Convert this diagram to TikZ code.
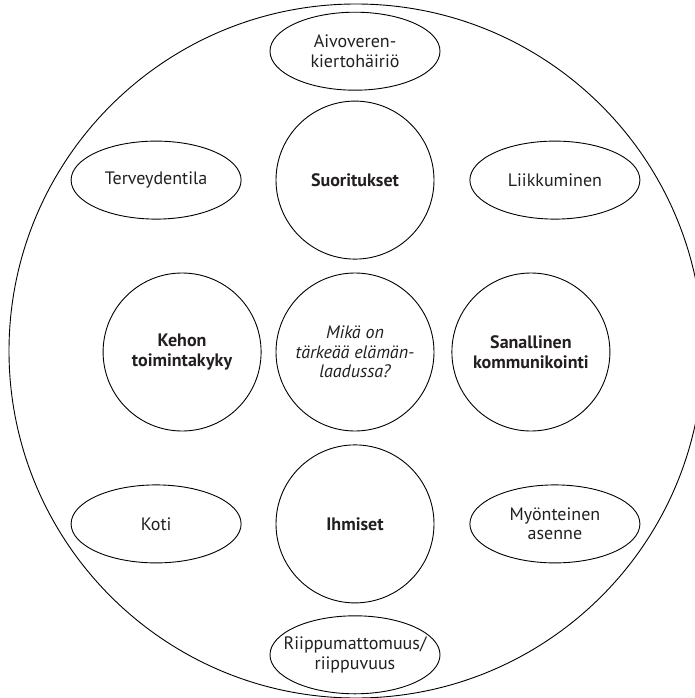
\documentclass[tikz,border=0pt]{standalone}
\usepackage{fontspec}
\setmainfont{PT Sans}
\usepackage{tikz}
\usetikzlibrary{shapes.geometric,positioning}
\definecolor{textgrey}{HTML}{231F20}

\begin{document}
\begin{tikzpicture}[x=1pt,y=-1pt,node distance=13pt and 14pt]

\tikzset{bigcircle/.style={shape=circle,draw,line width=0.9pt,minimum size=158pt,inner sep=0pt,align=center,text=textgrey,font=\fontsize{18}{19.5}\selectfont},
smallellipse/.style={shape=ellipse,draw,line width=0.9pt,minimum width=170pt,minimum height=78pt,inner xsep=-25pt,inner ysep=0pt,align=center,text=textgrey,font=\fontsize{18}{19.5}\selectfont}}

\useasboundingbox (0,0) rectangle (695,698);

% Outer circle
\draw[line width=0.9pt] (356,351) circle [radius=347pt];

% circle nodes
\node [bigcircle] (mid) at (355,352) {\itshape Mikä on\\\itshape tärkeää elämän-\\\itshape laadussa?};
\node [bigcircle,above=of mid] (suor) {\bfseries Suoritukset};
\node [bigcircle,below=of mid] (ihm) {\bfseries Ihmiset};
\node [bigcircle,left=14pt of mid] (kehon) {\bfseries Kehon\\\bfseries toimintakyky};
\node [bigcircle,right=17pt of mid] (sanal) {\bfseries Sanallinen\\\bfseries kommunikointi};

% ellipse nodes
\node [smallellipse,above=10pt of suor] (aivo) {Aivoveren-\\kiertohäiriö};
\node [smallellipse,left=34pt of suor] (terv) {Terveydentila};
\node [smallellipse,right=35pt of suor] (liik) {Liikkuminen};
\node [smallellipse,left=34pt of ihm] (koti) {Koti};
\node [smallellipse,right=35pt of ihm] (myon) {Myönteinen\\asenne};
\node [smallellipse,below=12pt of ihm] (riip) {Riippumattomuus/\\riippuvuus};

\end{tikzpicture}
\end{document}
